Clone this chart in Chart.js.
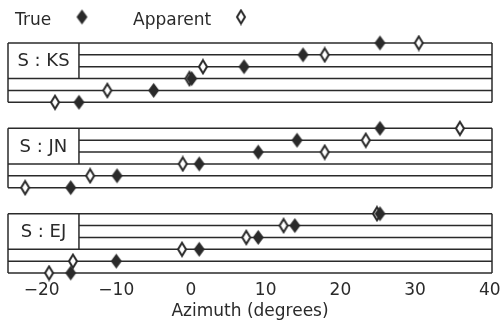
<!DOCTYPE html>
<html>
<head>
<meta charset="utf-8">
<script src="https://cdn.jsdelivr.net/npm/chart.js@4.4.1/dist/chart.umd.min.js"></script>
<style>
    html, body { margin: 0; padding: 0; background: #fff; }
    #wrap { width: 504px; height: 322px; position: relative; }
</style>
</head>
<body>
<div id="wrap"><canvas id="azimuthChart"></canvas></div>
<script>
// Subjects, top to bottom, and where each panel's bottom row sits on the y scale
const SUBJECTS = ['KS', 'JN', 'EJ'];
const PANEL_BASE = [14.4, 7.2, 0];
const ROWS = [0, 1, 2, 3, 4, 5];

// Azimuths (degrees), one per row, bottom row first
const KS_TRUE = [-15.0, -5.0, 0.1, 7.1, 15.0, 25.3];
const KS_APPARENT = [-18.2, -11.2, -0.2, 1.6, 17.9, 30.5];
const JN_TRUE = [-16.1, -9.9, 1.1, 9.0, 14.2, 25.3];
const JN_APPARENT = [-22.2, -13.5, -1.1, 17.9, 23.4, 36.0];
const EJ_TRUE = [-16.1, -10.0, 1.1, 9.0, 13.9, 25.3];
const EJ_APPARENT = [-19.0, -15.8, -1.2, 7.4, 12.4, 24.9];

const TRUE_BY_SUBJECT = [KS_TRUE, JN_TRUE, EJ_TRUE];
const APPARENT_BY_SUBJECT = [KS_APPARENT, JN_APPARENT, EJ_APPARENT];

const X_TICKS = [-20, -10, 0, 10, 20, 30, 40];
const X_MIN = -24.5;
const X_MAX = 40.3;
const LABEL_EDGE = -15;

const INK = '#2a2a2a';
const FONT = '"DejaVu Sans", sans-serif';

// ------------------------------------------------------------------
// Diamond markers (taller than wide, like the plotter glyphs)
// ------------------------------------------------------------------

function make_diamond(w, h, filled) {
    const c = document.createElement('canvas');
    c.width = w + 4;
    c.height = h + 4;
    const ctx = c.getContext('2d');
    const cx = c.width / 2, cy = c.height / 2;
    ctx.beginPath();
    ctx.moveTo(cx, cy - h / 2);
    ctx.lineTo(cx + w / 2, cy);
    ctx.lineTo(cx, cy + h / 2);
    ctx.lineTo(cx - w / 2, cy);
    ctx.closePath();
    if (filled) {
        ctx.fillStyle = INK;
        ctx.fill();
    } else {
        ctx.fillStyle = '#fff';
        ctx.fill();
        ctx.lineWidth = 2;
        ctx.strokeStyle = INK;
        ctx.stroke();
    }
    return c;
}

const FILLED = make_diamond(11, 15, true);
const OPEN = make_diamond(8, 13, false);

function to_points(values, base) {
    return values.map((v, i) => ({ x: v, y: base + ROWS[i] }));
}

const trueData = SUBJECTS.flatMap((s, i) => to_points(TRUE_BY_SUBJECT[i], PANEL_BASE[i]));
const apparentData = SUBJECTS.flatMap((s, i) => to_points(APPARENT_BY_SUBJECT[i], PANEL_BASE[i]));

// ------------------------------------------------------------------
// Panel frames, row lines and subject labels
// ------------------------------------------------------------------

const panelFrames = {
    id: 'panelFrames',
    beforeDatasetsDraw(chart) {
        const { ctx, scales: { x, y } } = chart;
        ctx.save();
        ctx.strokeStyle = INK;
        ctx.lineWidth = 1.5;
        const seg = (x0, y0, x1, y1) => {
            ctx.beginPath();
            ctx.moveTo(x.getPixelForValue(x0), y.getPixelForValue(y0));
            ctx.lineTo(x.getPixelForValue(x1), y.getPixelForValue(y1));
            ctx.stroke();
        };
        PANEL_BASE.forEach((base, p) => {
            ROWS.forEach(r => {
                const start = (r === 3 || r === 4) ? LABEL_EDGE : X_MIN;
                seg(start, base + r, X_MAX, base + r);
            });
            seg(X_MIN, base, X_MIN, base + 5);
            seg(X_MAX, base, X_MAX, base + 5);
            seg(LABEL_EDGE, base + 2, LABEL_EDGE, base + 5);

            ctx.fillStyle = INK;
            ctx.font = `18px ${FONT}`;
            ctx.textAlign = 'center';
            ctx.textBaseline = 'middle';
            ctx.fillText(`S : ${SUBJECTS[p]}`,
                x.getPixelForValue((X_MIN + LABEL_EDGE) / 2),
                y.getPixelForValue(base + 3.5) + 1);
        });
        ctx.restore();
    },
};

const topLegend = {
    id: 'topLegend',
    afterDraw(chart) {
        const ctx = chart.ctx;
        ctx.save();
        ctx.fillStyle = INK;
        ctx.font = `17px ${FONT}`;
        ctx.textBaseline = 'alphabetic';
        ctx.textAlign = 'left';
        ctx.fillText('True', 15, 25);
        ctx.drawImage(FILLED, 82 - FILLED.width / 2, 17 - FILLED.height / 2);
        ctx.fillText('Apparent', 133, 25);
        ctx.drawImage(OPEN, 241 - OPEN.width / 2, 17 - OPEN.height / 2);
        ctx.restore();
    },
};

new Chart(document.getElementById('azimuthChart'), {
    type: 'scatter',
    data: {
        datasets: [
            { label: 'True', data: trueData, pointStyle: FILLED, clip: false },
            { label: 'Apparent', data: apparentData, pointStyle: OPEN, clip: false },
        ],
    },
    options: {
        responsive: true,
        maintainAspectRatio: false,
        animation: false,
        layout: { padding: { left: 8, right: 12, top: 43, bottom: 0 } },
        scales: {
            x: {
                type: 'linear',
                min: X_MIN,
                max: X_MAX,
                afterBuildTicks: scale => { scale.ticks = X_TICKS.map(v => ({ value: v })); },
                afterFit: scale => {
                    scale.height = 49;
                    scale.paddingLeft = 0;
                    scale.paddingRight = 0;
                },
                grid: { display: false, drawTicks: false },
                border: { display: false },
                ticks: {
                    padding: 7,
                    color: INK,
                    font: { family: FONT, size: 17 },
                    maxRotation: 0,
                    callback: v => `${v}`.replace('-', '\u2212'),
                },
                title: {
                    display: true,
                    text: 'Azimuth (degrees)',
                    color: INK,
                    font: { family: FONT, size: 17 },
                    padding: { top: 0, bottom: 0 },
                },
            },
            y: {
                display: false,
                min: 0,
                max: PANEL_BASE[0] + 5,
            },
        },
        plugins: {
            legend: { display: false },
            tooltip: { enabled: false },
        },
    },
    plugins: [panelFrames, topLegend],
});
</script>
</body>
</html>
